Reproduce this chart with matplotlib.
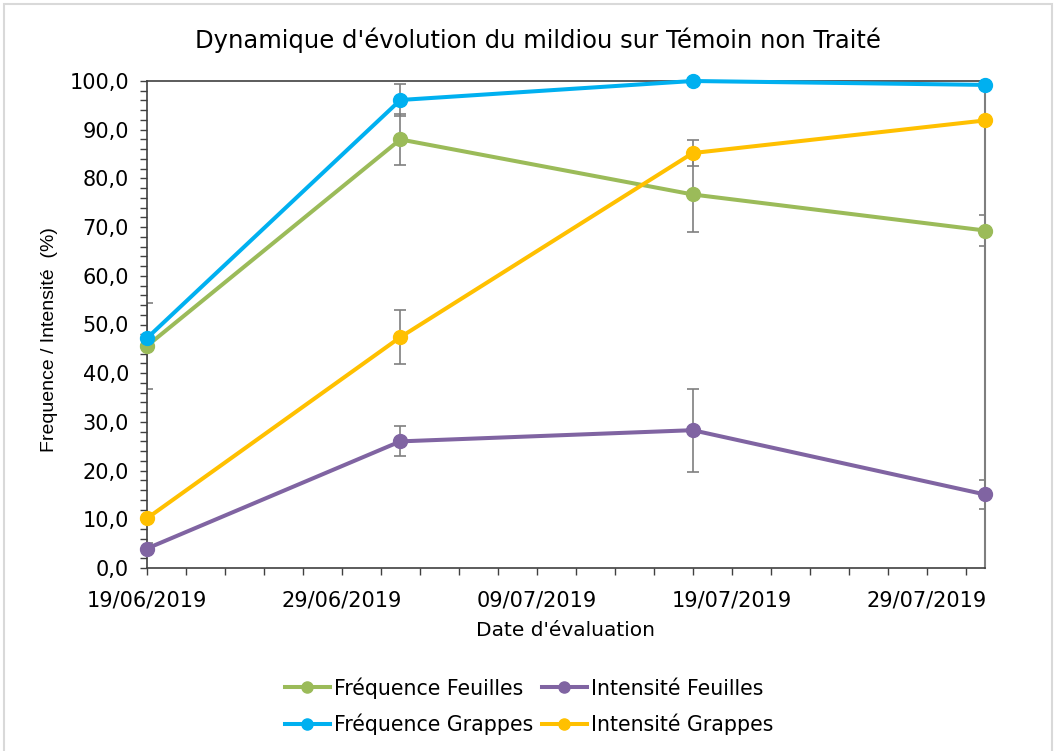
import matplotlib
matplotlib.use("Agg")
import matplotlib.pyplot as plt
import matplotlib.dates as mdates
from matplotlib.ticker import FixedLocator, MultipleLocator, FuncFormatter
from matplotlib.patches import Rectangle
import pandas as pd
import numpy as np

plt.rcParams['font.family'] = ['DejaVu Sans']

dates = ["2019-06-19", "2019-07-02", "2019-07-17", "2019-08-01"]
freq_feuilles = [45.6, 88.0, 76.7, 69.3]
freq_feuilles_err = [8.8, 5.3, 7.7, 3.1]
int_feuilles = [4.0, 26.0, 28.3, 15.1]
int_feuilles_err = [1.2, 3.1, 8.5, 2.9]
freq_grappes = [47.2, 96.1, 100.0, 99.2]
freq_grappes_err = [0.0, 3.3, 0.0, 0.8]
int_grappes = [10.2, 47.4, 85.2, 91.9]
int_grappes_err = [0.0, 5.6, 2.6, 0.0]

labels = ["Fréquence Feuilles", "Intensité Feuilles", "Fréquence Grappes", "Intensité Grappes"]
colors = ["#9BBB59", "#8064A2", "#00B0F0", "#FFC000"]

x = pd.to_datetime(dates)
W, H = 1056, 751
fig = plt.figure(figsize=(W / 100, H / 100), dpi=100)
fig.patches.append(Rectangle((4 / W, -0.01), (W - 8) / W, (H - 4) / H + 0.01,
                             transform=fig.transFigure, fill=False,
                             edgecolor="#d9d9d9", linewidth=1.5))

ax = fig.add_axes([147 / W, 1 - 568 / H, (985 - 147) / W, (568 - 81) / H])

series = [
    (freq_feuilles, freq_feuilles_err),
    (int_feuilles, int_feuilles_err),
    (freq_grappes, freq_grappes_err),
    (int_grappes, int_grappes_err),
]
handles = []
for (vals, errs), lab, col in zip(series, labels, colors):
    ax.errorbar(x, vals, yerr=errs, fmt='none', ecolor="#7f7f7f",
                elinewidth=1.2, capsize=4, capthick=1.2, zorder=2)
    h, = ax.plot(x, vals, color=col, linewidth=2.9, marker='o', markersize=10,
                 label=lab, clip_on=False, zorder=3)
    handles.append(h)

ax.set_xlim(pd.Timestamp("2019-06-19"), pd.Timestamp("2019-08-01"))
ax.set_ylim(0, 100)

major = pd.date_range("2019-06-19", "2019-08-01", freq="10D")
minor = pd.date_range("2019-06-19", "2019-08-01", freq="2D")
ax.xaxis.set_major_locator(FixedLocator(mdates.date2num(major)))
ax.xaxis.set_minor_locator(FixedLocator(mdates.date2num(minor)))
ax.xaxis.set_major_formatter(mdates.DateFormatter("%d/%m/%Y"))
ax.yaxis.set_major_locator(MultipleLocator(10))
ax.yaxis.set_minor_locator(MultipleLocator(2))
ax.yaxis.set_major_formatter(FuncFormatter(lambda v, p: f"{v:.1f}".replace(".", ",")))

ax.tick_params(axis='both', which='both', direction='out', length=5, width=1,
               color="#404040", labelsize=15, labelcolor="#000000")
ax.tick_params(axis='x', which='major', pad=11)
ax.tick_params(axis='y', which='major', pad=8)

for s in ["left", "bottom", "top"]:
    ax.spines[s].set_color("#404040")
    ax.spines[s].set_linewidth(1.2)
ax.spines["right"].set_color("#7f7f7f")
ax.spines["right"].set_linewidth(1.5)

ax.set_xlabel("Date d'évaluation", fontsize=14.5, labelpad=8)
ax.set_ylabel("Frequence / Intensité  (%)", fontsize=14, family=['Liberation Sans'])
ax.yaxis.set_label_coords(50 / W - 147 / W, 0.5, transform=fig.transFigure)
ax.yaxis.label.set_position((50 / W, 1 - 340 / H))
ax.yaxis.label.set_va('center')
fig.text(538 / W, 1 - 40 / H, "Dynamique d'évolution du mildiou sur Témoin non Traité",
         ha='center', va='center', fontsize=17.5)

order = [0, 2, 1, 3]
leg = fig.legend([handles[i] for i in order], [labels[i] for i in order],
                 ncol=2, loc='center', bbox_to_anchor=(529 / W, 1 - 706 / H),
                 frameon=False, fontsize=14.8, handlelength=2.2, handletextpad=0.2,
                 columnspacing=0.4, labelspacing=0.72, markerscale=0.8)

fig.savefig("out.png", dpi=100)
